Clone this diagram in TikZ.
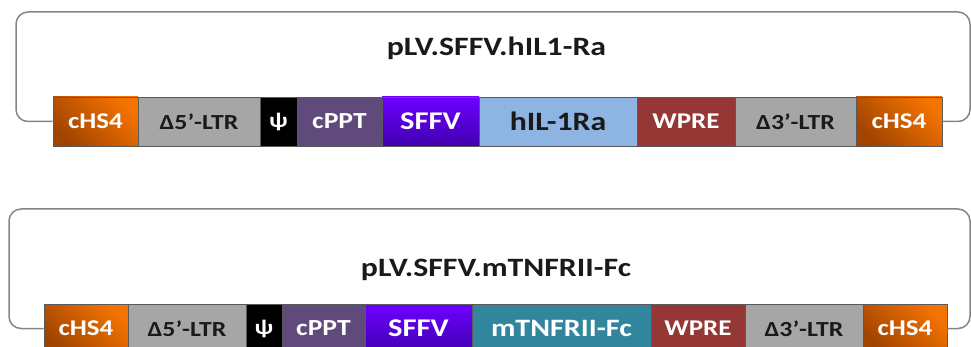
\documentclass[tikz,border=0pt]{standalone}
\usepackage{fontspec}
\setmainfont{Carlito}[FakeStretch=1.2]
\definecolor{loopgray}{HTML}{858585}
\definecolor{segborder}{HTML}{5A5A5A}
\definecolor{txtdark}{HTML}{1A1A1A}
\definecolor{orL}{HTML}{F57300}
\definecolor{orD}{HTML}{A04400}
\definecolor{ltrgray}{HTML}{A6A6A6}
\definecolor{cpptc}{HTML}{604A7B}
\definecolor{sffvL}{HTML}{6C00FF}
\definecolor{sffvD}{HTML}{4200B0}
\definecolor{hilc}{HTML}{8DB4E2}
\definecolor{wprec}{HTML}{953735}
\definecolor{tnfc}{HTML}{31859C}
\tikzset{
  seg/.style={draw=segborder, line width=0.8pt, inner sep=0pt, minimum height=49pt,
    font=\bfseries\fontsize{22.5}{22.5}\selectfont, text=white},
  darktext/.style={text=txtdark},
  chs/.style={seg, top color=orL, bottom color=orD, shading angle=-45},
  ltr/.style={seg, fill=ltrgray, darktext, font=\bfseries\fontsize{21.5}{21.5}\selectfont},
  psibox/.style={seg, fill=black, font=\bfseries\fontsize{21}{21}\selectfont},
  cppt/.style={seg, fill=cpptc, font=\bfseries\fontsize{23}{23}\selectfont},
  sffv/.style={seg, top color=sffvL, bottom color=sffvD, font=\bfseries\fontsize{25.5}{25.5}\selectfont},
  wpre/.style={seg, fill=wprec},
  loopline/.style={draw=loopgray, line width=1.5pt, rounded corners=12pt},
  title/.style={font=\bfseries\fontsize{26.5}{26.5}\selectfont, text=txtdark, inner sep=0pt}
}
\begin{document}
\begin{tikzpicture}[x=1pt,y=-1pt]
\useasboundingbox (0,0) rectangle (971,347);
% ---------- top construct ----------
\node[chs,  minimum width=85pt]  (a1) at (95.5,121.5) {cHS4};
\node[ltr,  minimum width=122pt] (a2) at (199,121.5) {Δ5’-LTR};
\node[psibox, minimum width=37pt] (a3) at (278.5,121.5) {ψ};
\node[cppt, minimum width=85pt]  (a4) at (339.5,121.5) {cPPT};
\node[sffv, minimum width=97pt]  (a5) at (430.5,121.5) {SFFV};
\node[seg, fill=hilc, darktext, font=\bfseries\fontsize{26.5}{26.5}\selectfont, minimum width=158pt] (a6) at (558,121.5) {hIL-1Ra};
\node[wpre, minimum width=98pt]  (a7) at (686,121.5) {WPRE};
\node[ltr,  minimum width=121pt] (a8) at (795.5,121.5) {Δ3’-LTR};
\node[chs,  minimum width=86pt]  (a9) at (899,121.5) {cHS4};
\draw[loopline] (a1.west) -| (16,12) -| (970,121.5) -- (a9.east);
\node[title] (t1) at (496.5,48) {pLV.SFFV.hIL1-Ra};
% ---------- bottom construct ----------
\node[chs,  minimum width=84pt]  (b1) at (86,328.5) {cHS4};
\node[ltr,  minimum width=118pt] (b2) at (187,328.5) {Δ5’-LTR};
\node[psibox, minimum width=36pt] (b3) at (264,328.5) {ψ};
\node[cppt, minimum width=83pt]  (b4) at (323.5,328.5) {cPPT};
\node[sffv, minimum width=107pt] (b5) at (418.5,328.5) {SFFV};
\node[seg, fill=tnfc, font=\bfseries\fontsize{25}{25}\selectfont, minimum width=179pt] (b6) at (561.5,328.5) {mTNFRII-Fc};
\node[wpre, minimum width=94pt]  (b7) at (698,328.5) {WPRE};
\node[ltr,  minimum width=118pt] (b8) at (804,328.5) {Δ3’-LTR};
\node[chs,  minimum width=84pt]  (b9) at (905,328.5) {cHS4};
\draw[loopline] (b1.west) -| (9,209) -| (970,328.5) -- (b9.east);
\node[title] (t2) at (496,270) {pLV.SFFV.mTNFRII-Fc};
\end{tikzpicture}
\end{document}
